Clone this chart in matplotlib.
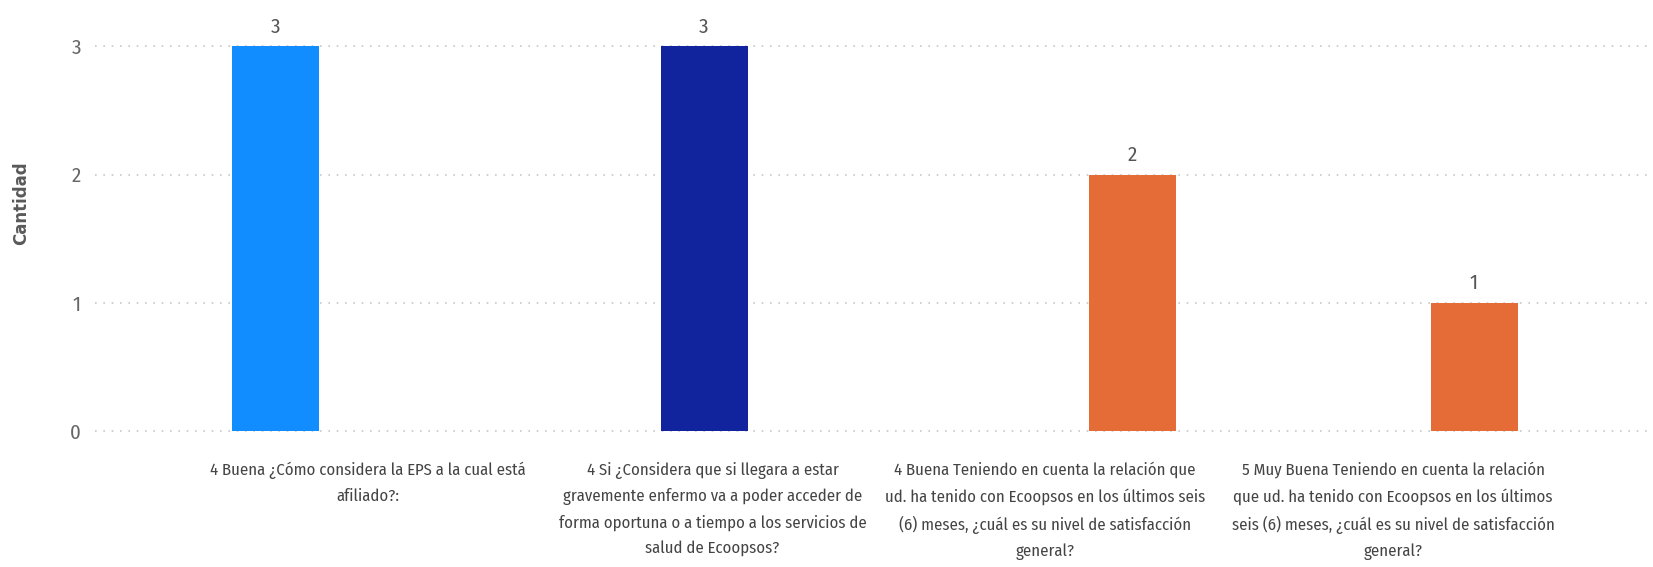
import matplotlib
matplotlib.use('Agg')
import matplotlib.pyplot as plt

# data
categories = [
    '4 Buena ¿Cómo considera la EPS a la cual está\nafiliado?:',
    '4 Si ¿Considera que si llegara a estar\ngravemente enfermo va a poder acceder de\n'
    'forma oportuna o a tiempo a los servicios de\nsalud de Ecoopsos?',
    '4 Buena Teniendo en cuenta la relación que\nud. ha tenido con Ecoopsos en los últimos seis\n'
    '(6) meses, ¿cuál es su nivel de satisfacción\ngeneral?',
    '5 Muy Buena Teniendo en cuenta la relación\nque ud. ha tenido con Ecoopsos en los últimos\n'
    'seis (6) meses, ¿cuál es su nivel de satisfacción\ngeneral?',
]
counts = [3, 3, 2, 1]
y_ticks = [0, 1, 2, 3]

# layout / style
bar_colors = ['#118DFF', '#12239E', '#E66C37', '#E66C37']
bar_x = [0, 1, 2, 2.797]
label_x = [0.216, 1.02, 1.796, 2.608]
narrow = ['Fira Sans Condensed', 'Liberation Sans', 'DejaVu Sans']

fig = plt.figure(figsize=(16.53, 5.67), dpi=100)
ax = fig.add_axes([0.05747, 0.23986, 0.94253, 0.6896])

bars = ax.bar(bar_x, counts, width=0.203, color=bar_colors, zorder=3)
ax.bar_label(bars, labels=[str(c) for c in counts], padding=7,
             fontsize=15, family=narrow, color='#555555')

ax.set_xlim(-0.4213, 3.2147)
ax.set_ylim(0, 3.05)
ax.set_yticks(y_ticks)
ax.set_yticklabels([str(t) for t in y_ticks], family=narrow, fontsize=15, color='#666666')
ax.tick_params(axis='y', length=0, pad=10)

ax.set_xticks(label_x)
ax.set_xticklabels(categories, family=narrow, fontsize=12, color='#444444',
                   linespacing=1.75, va='top')
ax.tick_params(axis='x', length=0, pad=22)

ax.yaxis.grid(True, color='#C8C8C8', linestyle=(0, (1, 4)), linewidth=1.2)
for gl in ax.get_ygridlines():
    gl.set_clip_on(False)
ax.set_axisbelow(True)
for s in ax.spines.values():
    s.set_visible(False)

fig.text(0.0127, 0.642, 'Cantidad', rotation=90, ha='center', va='center',
         fontsize=12, fontweight='bold', color='#595959', family='DejaVu Sans')

fig.savefig('out.png', dpi=100)
